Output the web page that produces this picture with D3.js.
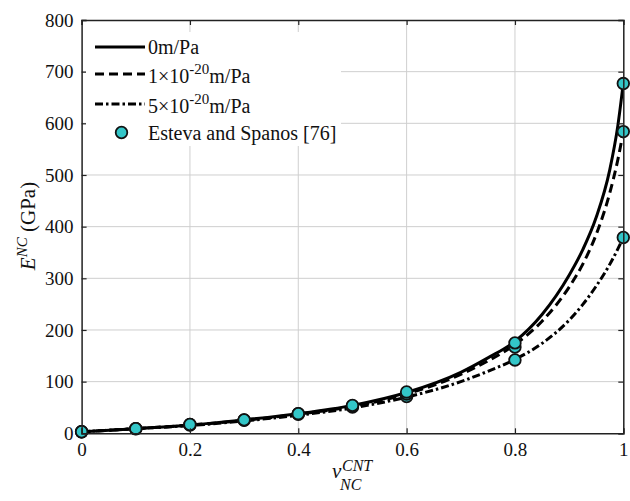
<!DOCTYPE html>
<html>
<head>
<meta charset="utf-8">
<script src="https://cdn.jsdelivr.net/npm/d3@7"></script>
<style>
  html, body { margin: 0; padding: 0; background: #fff; }
  svg { display: block; font-family: "Liberation Serif", "Times New Roman", serif; }
</style>
</head>
<body>
<svg id="chart" width="630" height="501"></svg>
<script>
// Volume fraction samples for the model curves
const curveV = [0, 0.1, 0.2, 0.3, 0.4, 0.5, 0.6, 0.7, 0.75, 0.8, 0.85, 0.9, 0.925, 0.95, 0.975, 0.99, 1.0];
// Young's modulus E^NC (GPa) for each interface compliance
const curve0    = [3, 9, 16, 26, 38, 54, 79, 118, 146, 178, 230, 306, 355, 418, 510, 596, 678];
const curve1e20 = [3, 9, 16, 25, 37, 52, 76, 114, 140, 172, 217, 283, 327, 385, 465, 530, 584];
const curve5e20 = [3, 9, 15, 24, 35, 49, 70, 100, 120, 143, 174, 219, 249, 285, 327, 357, 379];

// Reference values (Esteva and Spanos)
const refV = [0, 0.1, 0.2, 0.3, 0.4, 0.5, 0.6, 0.8, 1.0];
const ref0 = [3, 9, 17, 26, 38, 54, 80, 175, 677];
const ref1 = [3, 9, 17, 26, 38, 53, 76, 167, 584];
const ref2 = [3, 9, 16, 25, 37, 51, 71, 142, 379];

const xTicks = [0, 0.2, 0.4, 0.6, 0.8, 1];
const xTickLabels = ["0", "0.2", "0.4", "0.6", "0.8", "1"];
const yTicks = [0, 100, 200, 300, 400, 500, 600, 700, 800];

const svg = d3.select("#chart");
const plotL = 81.6, plotR = 623.3, plotT = 20, plotB = 433.3;

const x = d3.scaleLinear().domain([0, 1]).range([plotL, plotR]);
const y = d3.scaleLinear().domain([0, 800]).range([plotB, plotT]);

// grid
const grid = svg.append("g").attr("stroke", "#cfcfcf").attr("stroke-width", 1);
grid.selectAll("line.vx").data(xTicks.slice(1, -1)).join("line")
  .attr("x1", d => x(d)).attr("x2", d => x(d)).attr("y1", plotT).attr("y2", plotB);
grid.selectAll("line.hy").data(yTicks.slice(1, -1)).join("line")
  .attr("x1", plotL).attr("x2", plotR).attr("y1", d => y(d)).attr("y2", d => y(d));

// axes with inward ticks
const tickLen = 5;
const xAxisB = d3.axisBottom(x).tickValues(xTicks).tickSize(-tickLen).tickFormat((d, i) => xTickLabels[i]).tickPadding(9);
const xAxisT = d3.axisTop(x).tickValues(xTicks).tickSize(-tickLen).tickFormat("");
const yAxisL = d3.axisLeft(y).tickValues(yTicks).tickSize(-tickLen).tickFormat(d3.format("d")).tickPadding(8);
const yAxisR = d3.axisRight(y).tickValues(yTicks).tickSize(-tickLen).tickFormat("");

function styleAxis(g) {
  g.select(".domain").attr("stroke", "#222").attr("stroke-width", 1.5);
  g.selectAll(".tick line").attr("stroke", "#222").attr("stroke-width", 1.2);
  g.selectAll(".tick text").attr("fill", "#111").style("font-size", "19px")
    .style("font-family", "Liberation Serif, Times New Roman, serif");
}

// curves
const line = d3.line().x(d => x(d[0])).y(d => y(d[1])).curve(d3.curveMonotoneX);
const curves = [
  { vals: curve0, dash: null },
  { vals: curve1e20, dash: "9,5" },
  { vals: curve5e20, dash: "8,3,2.5,3" }
];
svg.append("g").selectAll("path").data(curves).join("path")
  .attr("d", c => line(curveV.map((v, i) => [v, c.vals[i]])))
  .attr("fill", "none").attr("stroke", "#000").attr("stroke-width", 3)
  .attr("stroke-dasharray", c => c.dash);

// reference points
const markerFill = "#33c6c8";
const refSets = [ref0, ref1, ref2];
const pts = svg.append("g");
refSets.slice().reverse().forEach(set => {
  pts.append("g").selectAll("circle").data(refV.map((v, i) => [v, set[i]])).join("circle")
    .attr("cx", d => x(d[0])).attr("cy", d => y(d[1])).attr("r", 5.8)
    .attr("fill", markerFill).attr("stroke", "#111").attr("stroke-width", 1.8);
});

svg.append("g").attr("transform", `translate(0,${plotB})`).call(xAxisB).call(styleAxis);
svg.append("g").attr("transform", `translate(0,${plotT})`).call(xAxisT).call(styleAxis);
svg.append("g").attr("transform", `translate(${plotL},0)`).call(yAxisL).call(styleAxis);
svg.append("g").attr("transform", `translate(${plotR},0)`).call(yAxisR).call(styleAxis);

// legend
const lg = svg.append("g");
lg.append("rect").attr("x", 86).attr("y", 32).attr("width", 255).attr("height", 114).attr("fill", "#fff");
const legendRows = [
  { y: 47, dash: null, pre: "0m/Pa", sup: null, post: "" },
  { y: 74, dash: "9,5", pre: "1×10", sup: "-20", post: "m/Pa" },
  { y: 104, dash: "8,3,2.5,3", pre: "5×10", sup: "-20", post: "m/Pa" }
];
legendRows.forEach(r => {
  lg.append("line").attr("x1", 95).attr("x2", 145).attr("y1", r.y).attr("y2", r.y)
    .attr("stroke", "#000").attr("stroke-width", 3).attr("stroke-dasharray", r.dash);
  const t = lg.append("text").attr("x", 148).attr("y", r.y + (r.sup ? 9 : 7))
    .style("font-size", "20px").attr("fill", "#111");
  t.append("tspan").text(r.pre);
  if (r.sup) {
    t.append("tspan").attr("dy", -9).style("font-size", "15px").text(r.sup);
    t.append("tspan").attr("dy", 9).text(r.post);
  }
});
lg.append("circle").attr("cx", 121.5).attr("cy", 132.5).attr("r", 5.8)
  .attr("fill", markerFill).attr("stroke", "#111").attr("stroke-width", 1.8);
lg.append("text").attr("x", 148).attr("y", 140).style("font-size", "20px").attr("fill", "#111")
  .text("Esteva and Spanos [76]");

// x axis label: v_NC^CNT
const xl = svg.append("g").attr("fill", "#111").style("font-style", "italic");
xl.append("text").attr("x", 332).attr("y", 478).style("font-size", "21px").text("v");
xl.append("text").attr("x", 342).attr("y", 471).style("font-size", "16px").text("CNT");
xl.append("text").attr("x", 340).attr("y", 490).style("font-size", "16px").text("NC");

// y axis label: E^NC (GPa)
const yl = svg.append("text").attr("transform", "translate(35,226) rotate(-90)")
  .attr("text-anchor", "middle").attr("fill", "#111").style("font-size", "21px");
yl.append("tspan").style("font-style", "italic").text("E");
yl.append("tspan").attr("dy", -8).style("font-style", "italic").style("font-size", "15px").text("NC");
yl.append("tspan").attr("dy", 8).text(" (GPa)");
</script>
</body>
</html>
